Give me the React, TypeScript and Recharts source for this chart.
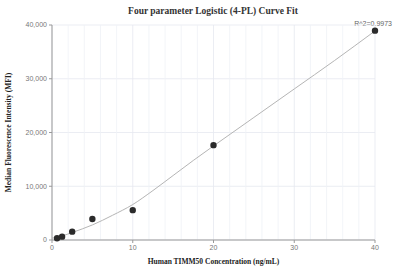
import React from 'react';
import {
  ComposedChart, Line, Scatter, XAxis, YAxis, ZAxis, CartesianGrid, ReferenceLine
} from 'recharts';

// measured standards (ng/mL vs MFI)
const CONC = [0.625, 1.25, 2.5, 5, 10, 20, 40];
const MFI = [320, 620, 1550, 3900, 5550, 17650, 38950];

// fitted 4-PL curve
const CURVE_X = [0, 1.25, 2.5, 5, 7.5, 10, 12.5, 15, 17.5, 20, 25, 30, 35, 40];
const CURVE_Y = [350, 750, 1400, 2800, 4600, 6600, 9200, 12000, 14800, 17500, 22800, 28100, 33400, 38900];

const X_TICKS = [0, 10, 20, 30, 40];
const X_MINOR = [2, 4, 6, 8, 12, 14, 16, 18, 22, 24, 26, 28, 32, 34, 36, 38];
const Y_TICKS = [0, 10000, 20000, 30000, 40000];

const points = CONC.map((c, i) => ({ x: c, y: MFI[i] }));
const curve = CURVE_X.map((c, i) => ({ x: c, y: CURVE_Y[i] }));

const serif = '"Liberation Serif", "Times New Roman", serif';
const sans = '"Liberation Sans", Arial, sans-serif';

export default function App() {
  return (
    <div style={{ position: 'absolute', left: 0, top: 0, width: 396, height: 273, background: '#fff' }}>
      <div style={{
        position: 'absolute', left: 0, width: 426, top: 6, textAlign: 'center',
        fontFamily: serif, fontWeight: 700, fontSize: 9.5, color: '#333'
      }}>
        Four parameter Logistic (4-PL) Curve Fit
      </div>
      <div style={{
        position: 'absolute', right: 4, top: 20, fontFamily: sans, fontSize: 7, color: '#666'
      }}>
        R^2=0.9973
      </div>
      <ComposedChart width={396} height={273} margin={{ top: 25, right: 21, bottom: 13, left: 6 }}>
        <CartesianGrid stroke="#e6e9f0" strokeWidth={0.8} horizontal={true} vertical={true} />
        {X_MINOR.map((v) => (
          <ReferenceLine key={v} x={v} stroke="#eff1f6" strokeWidth={0.8} />
        ))}
        <XAxis
          dataKey="x" type="number" domain={[0, 40]} ticks={X_TICKS}
          stroke="#999" tick={{ fill: '#777', fontSize: 7, fontFamily: sans }}
          tickSize={3} height={20}
          label={{
            value: 'Human TIMM50 Concentration (ng/mL)', position: 'insideBottom', offset: -4,
            fill: '#222', fontSize: 7.5, fontWeight: 700, fontFamily: serif
          }}
        />
        <YAxis
          dataKey="y" type="number" domain={[0, 40000]} ticks={Y_TICKS}
          tickFormatter={(v: number) => v.toLocaleString('en-US')}
          stroke="#999" tick={{ fill: '#777', fontSize: 7, fontFamily: sans }}
          tickSize={3} width={46}
          label={{
            value: 'Median Fluorescence Intensity (MFI)', angle: -90, position: 'insideLeft', offset: 2,
            style: { textAnchor: 'middle' },
            fill: '#222', fontSize: 7.5, fontWeight: 700, fontFamily: serif
          }}
        />
        <ZAxis range={[32, 32]} />
        <Line
          data={curve} dataKey="y" type="monotone" stroke="#b5b5b5" strokeWidth={1}
          dot={false} activeDot={false} isAnimationActive={false}
        />
        <Scatter data={points} dataKey="y" fill="#2b2b2b" isAnimationActive={false} />
      </ComposedChart>
    </div>
  );
}
